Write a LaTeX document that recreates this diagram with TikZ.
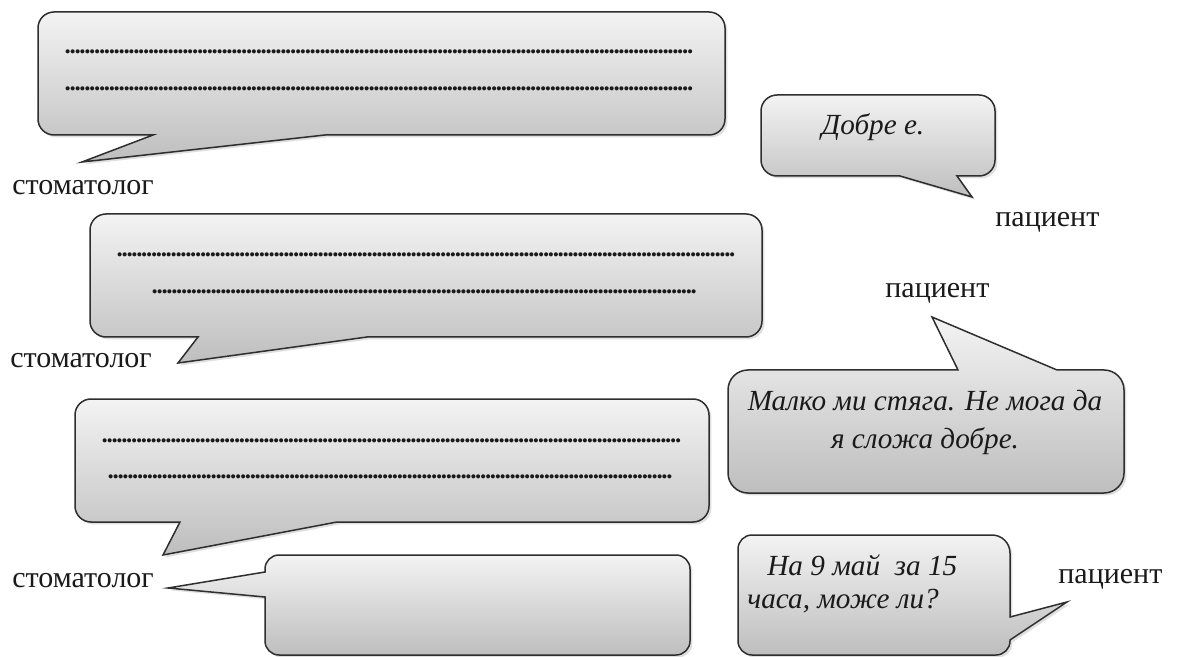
\documentclass[tikz,border=0pt]{standalone}
\usepackage{fontspec}
\setmainfont{Liberation Serif}
\usetikzlibrary{shadows}
\definecolor{bubbleBorder}{HTML}{2E2E2E}
\definecolor{bubbleTop}{HTML}{F3F3F3}
\definecolor{bubbleBottom}{HTML}{BEBEBE}
\definecolor{textMain}{HTML}{1A1A1A}
\newlength\pxu
\setlength\pxu{0.5pt}
\newcommand\dotrow[1]{\hbox to #1\pxu{\leaders\hbox to 2.45pt{\hss.\hss}\hfill}}
\tikzset{
  bubble/.style={draw=bubbleBorder, line width=0.75pt, top color=bubbleTop,
    bottom color=bubbleBottom,
    drop shadow={shadow xshift=1.2pt, shadow yshift=-1.2pt, opacity=0.25}},
  speaker/.style={font=\fontsize{15}{18}\selectfont, text=textMain,
    inner sep=0pt, anchor=base west},
  saying/.style={font=\fontsize{14.6}{18}\selectfont\itshape, text=textMain,
    inner sep=0pt},
  dots/.style={font=\fontsize{12.5}{14}\selectfont\bfseries, text=textMain,
    inner sep=0pt, anchor=west},
}

\begin{document}
\begin{tikzpicture}[x=0.5pt, y=-0.5pt]

  \fill[white] (0,0) rectangle (1177,657);
  \useasboundingbox (0,0) rectangle (1177,657);

  % === Left column: dentist bubbles ===
  \path[bubble] (38,70) [rounded corners=8pt] -- (38,12) -- (725,12) -- (725,135)
    [sharp corners] -- (325,135) -- (82,162) -- (153,135) [rounded corners=8pt]
    -- (38,135) -- cycle;
  \node[dots] (d1a) at (65,52) {\dotrow{632}};
  \node[dots] (d1b) at (65,89) {\dotrow{632}};

  \path[bubble] (90,275) [rounded corners=8pt] -- (90,214) -- (762,214) -- (762,337)
    [sharp corners] -- (367,337) -- (178,363) -- (198,337) [rounded corners=8pt]
    -- (90,337) -- cycle;
  \node[dots] (d2a) at (117,255) {\dotrow{620}};
  \node[dots] (d2b) at (152,292) {\dotrow{547}};

  \path[bubble] (75,460) [rounded corners=8pt] -- (75,399) -- (709,399) -- (709,522)
    [sharp corners] -- (337,522) -- (163,555) -- (180,522) [rounded corners=8pt]
    -- (75,522) -- cycle;
  \node[dots] (d3a) at (102,441) {\dotrow{582}};
  \node[dots] (d3b) at (108,477) {\dotrow{567}};

  \path[bubble] (477,555) [rounded corners=7pt] -- (690,555) -- (690,655) -- (265,655)
    [sharp corners] -- (265,597) -- (168,588) -- (265,572) [rounded corners=7pt]
    -- (265,555) -- cycle;

  % speaker labels
  \node[speaker] (dent1) at (12,195) {стоматолог};
  \node[speaker] (dent2) at (10,368) {стоматолог};
  \node[speaker] (dent3) at (12,587) {стоматолог};

  % === Right column: patient bubbles ===
  \path[bubble] (761,135) [rounded corners=8pt] -- (761,95) -- (995,95) -- (995,176)
    [sharp corners] -- (957,176) -- (972,197) -- (900,176) [rounded corners=8pt]
    -- (761,176) -- cycle;
  \node[saying, anchor=base] (say1) at (873,135) {Добре е.};

  \path[bubble] (728,430) [rounded corners=10pt] -- (728,370) [sharp corners]
    -- (958,370) -- (932,317) -- (1057,370) [rounded corners=10pt]
    -- (1124,370) -- (1124,493) -- (728,493) -- cycle;
  \node[saying, anchor=base] (say2a) at (925,410) {Малко ми стяга. Не мога да};
  \node[saying, anchor=base] (say2b) at (925,448) {я сложа добре.};

  \path[bubble] (874,535) [rounded corners=9pt] -- (1010,535) [sharp corners]
    -- (1010,617) -- (1067,602) -- (1010,640) [rounded corners=7pt]
    -- (1010,655) -- (738,655) -- (738,535) -- cycle;
  \node[saying, anchor=base west] (say3a) at (767,575) {На 9 май\ \ за 15};
  \node[saying, anchor=base west] (say3b) at (747,608) {часа, може ли?};

  % speaker labels
  \node[speaker] (pat1) at (995,227) {пациент};
  \node[speaker] (pat2) at (885,298) {пациент};
  \node[speaker] (pat3) at (1058,583) {пациент};

\end{tikzpicture}
\end{document}
